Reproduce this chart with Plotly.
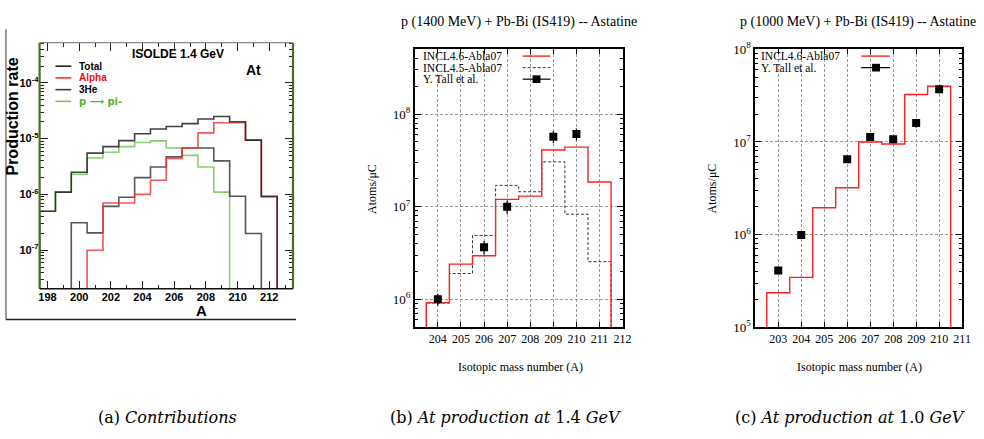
import plotly.graph_objects as go

W, H = 984, 439

# ---------------- data ----------------
# (a) ISOLDE 1.4 GeV contributions (production rate)
a_total_A = list(range(198, 213))
a_total = [5.0e-7, 1.1e-6, 2.5e-6, 5.5e-6, 7.2e-6, 9.2e-6, 1.22e-5, 1.49e-5,
           1.65e-5, 1.86e-5, 2.24e-5, 2.49e-5, 2.0e-5, 9.4e-6, 9.3e-7]
a_alpha_A = list(range(201, 213))
a_alpha = [1.0e-7, 7.0e-7, 7.0e-7, 1.0e-6, 1.8e-6, 4.4e-6, 6.8e-6, 1.27e-5,
           1.93e-5, 1.93e-5, 9.4e-6, 9.0e-7]
a_he3_A = list(range(200, 212))
a_he3 = [3.1e-7, 2.05e-7, 6.1e-7, 8.9e-7, 2.0e-6, 3.1e-6, 4.7e-6, 6.8e-6,
         6.8e-6, 4.0e-6, 9.3e-7, 2.0e-7]
a_pip_A = list(range(198, 210))
a_pip = [5.0e-7, 1.1e-6, 2.3e-6, 4.5e-6, 5.7e-6, 7.2e-6, 8.5e-6, 9.1e-6,
         6.8e-6, 5.0e-6, 3.1e-6, 1.1e-6]
a_xticks = [198, 200, 202, 204, 206, 208, 210, 212]
a_yexp = [-7, -6, -5, -4]

# (b) p (1400 MeV) + Pb-Bi
b_A = list(range(204, 212))
b_incl46 = [9.2e5, 2.4e6, 2.95e6, 1.2e7, 1.3e7, 4.1e7, 4.4e7, 1.85e7]
b_incl45 = [9.1e5, 1.9e6, 4.9e6, 1.7e7, 1.45e7, 3.05e7, 8.3e6, 2.55e6]
b_tall_A = [204, 206, 207, 209, 210]
b_tall = [1.0e6, 3.65e6, 1.0e7, 5.7e7, 6.1e7]
b_tall_err = [1.5e5, 6.0e5, 1.6e6, 8.5e6, 9.0e6]
b_xticks = list(range(204, 213))
b_yexp = [6, 7, 8]

# (c) p (1000 MeV) + Pb-Bi
c_A = list(range(203, 211))
c_incl46 = [2.35e5, 3.45e5, 1.95e6, 3.2e6, 1.0e7, 9.5e6, 3.26e7, 4.0e7]
c_tall_A = [203, 204, 206, 207, 208, 209, 210]
c_tall = [4.1e5, 9.9e5, 6.5e6, 1.13e7, 1.07e7, 1.6e7, 3.7e7]
c_tall_err = [3.0e4, 7.0e4, 5.0e5, 9.0e5, 9.0e5, 1.8e6, 3.5e6]
c_xticks = list(range(203, 212))
c_yexp = [5, 6, 7, 8]

captions = ["(a) <i>Contributions</i>",
            "(b) <i>At production at</i> 1.4 <i>GeV</i>",
            "(c) <i>At production at</i> 1.0 <i>GeV</i>"]


def px(x):
    return x / W


def py(y):
    return 1 - y / H


def steps(centers, vals, floor):
    xs, ys = [centers[0] - 0.5], [floor]
    for c, v in zip(centers, vals):
        xs += [c - 0.5, c + 0.5]
        ys += [v, v]
    xs.append(centers[-1] + 0.5)
    ys.append(floor)
    return xs, ys


def minor_vals(lo, hi):
    out = []
    for e in range(lo, hi + 1):
        for k in range(2, 10):
            out.append(k * 10 ** e)
    return out


def dec_vals(exps):
    return [10.0 ** e for e in exps]


def dec_text(exps):
    return ["10<sup>%d</sup>" % e for e in exps]


fig = go.Figure()

# ---------------- panel (a) ----------------
GREEN = "#7cc45c"
RED_A = "#f23a3a"
for xs_c, vals, col in [(a_pip_A, a_pip, GREEN), (a_he3_A, a_he3, "#3a3a3a"),
                        (a_alpha_A, a_alpha, RED_A), (a_total_A, a_total, "#222222")]:
    xs, ys = steps(xs_c, vals, 1e-10)
    fig.add_trace(go.Scatter(x=xs, y=ys, mode="lines", xaxis="x", yaxis="y",
                             line=dict(color=col, width=1.6), opacity=0.85,
                             showlegend=False, hoverinfo="skip"))

# ---------------- panel (b) ----------------
xs, ys = steps(b_A, b_incl45, 1e3)
fig.add_trace(go.Scatter(x=xs, y=ys, mode="lines", xaxis="x2", yaxis="y2",
                         line=dict(color="#333333", width=1, dash="3px,2px"),
                         showlegend=False, hoverinfo="skip"))
xs, ys = steps(b_A, b_incl46, 1e3)
fig.add_trace(go.Scatter(x=xs, y=ys, mode="lines", xaxis="x2", yaxis="y2",
                         line=dict(color="#ff2020", width=1.4),
                         showlegend=False, hoverinfo="skip"))
fig.add_trace(go.Scatter(x=b_tall_A, y=b_tall, mode="markers", xaxis="x2", yaxis="y2",
                         marker=dict(symbol="square", size=8, color="black"),
                         error_y=dict(type="data", array=b_tall_err, width=0,
                                      color="black", thickness=1.2),
                         showlegend=False, hoverinfo="skip"))

# ---------------- panel (c) ----------------
xs, ys = steps(c_A, c_incl46, 1e3)
fig.add_trace(go.Scatter(x=xs, y=ys, mode="lines", xaxis="x3", yaxis="y3",
                         line=dict(color="#ff2020", width=1.4),
                         showlegend=False, hoverinfo="skip"))
fig.add_trace(go.Scatter(x=c_tall_A, y=c_tall, mode="markers", xaxis="x3", yaxis="y3",
                         marker=dict(symbol="square", size=8, color="black"),
                         error_y=dict(type="data", array=c_tall_err, width=0,
                                      color="black", thickness=1.2),
                         showlegend=False, hoverinfo="skip"))

# ---------------- axes ----------------
bold11 = dict(family="Liberation Sans", size=11, color="black", weight="bold")
serif = dict(family="Liberation Serif", size=12, color="black")
serif_y = dict(family="Liberation Serif", size=13, color="black")

fig.update_layout(
    xaxis=dict(domain=[px(39), px(295)], anchor="y", range=[197.5, 213.5],
               tickvals=a_xticks, ticks="inside", ticklen=8, tickcolor="#222",
               mirror="ticks", showline=False, showgrid=False, zeroline=False,
               tickfont=bold11,
               minor=dict(tickvals=list(range(198, 214)), ticks="inside",
                          ticklen=4, tickcolor="#222", showgrid=False)),
    yaxis=dict(domain=[py(291), py(35)], anchor="x", type="log",
               range=[-7.69, -3.28], tickvals=dec_vals(a_yexp), ticktext=dec_text(a_yexp),
               ticks="inside", ticklen=8, tickcolor="#222", mirror="ticks",
               showline=False, showgrid=False, zeroline=False, tickfont=bold11,
               minor=dict(tickvals=minor_vals(-8, -4), ticks="inside",
                          ticklen=4, tickcolor="#222", showgrid=False)),
    xaxis2=dict(domain=[px(418), px(628)], anchor="y2", range=[203, 212],
                tickvals=b_xticks, ticks="inside", ticklen=5, tickcolor="black",
                mirror="ticks", showline=True, linecolor="black", linewidth=1.5,
                showgrid=True, gridcolor="#9a9a9a", griddash="3px,2px", gridwidth=1,
                zeroline=False, tickfont=serif),
    yaxis2=dict(domain=[py(331), py(42)], anchor="x2", type="log",
                range=[5.699, 8.699], tickvals=dec_vals(b_yexp), ticktext=dec_text(b_yexp),
                ticks="inside", ticklen=6, tickcolor="black", mirror="ticks",
                showline=True, linecolor="black", linewidth=1.5,
                showgrid=True, gridcolor="#9a9a9a", griddash="3px,2px", gridwidth=1,
                zeroline=False, tickfont=serif_y,
                minor=dict(tickvals=minor_vals(5, 8), ticks="inside", ticklen=3,
                           tickcolor="black", showgrid=False)),
    xaxis3=dict(domain=[px(762), px(971)], anchor="y3", range=[202, 211],
                tickvals=c_xticks, ticks="inside", ticklen=5, tickcolor="black",
                mirror="ticks", showline=True, linecolor="black", linewidth=1.5,
                showgrid=True, gridcolor="#9a9a9a", griddash="3px,2px", gridwidth=1,
                zeroline=False, tickfont=serif),
    yaxis3=dict(domain=[py(331), py(42)], anchor="x3", type="log",
                range=[5, 8], tickvals=dec_vals(c_yexp), ticktext=dec_text(c_yexp),
                ticks="inside", ticklen=6, tickcolor="black", mirror="ticks",
                showline=True, linecolor="black", linewidth=1.5,
                showgrid=True, gridcolor="#9a9a9a", griddash="3px,2px", gridwidth=1,
                zeroline=False, tickfont=serif_y,
                minor=dict(tickvals=minor_vals(4, 8), ticks="inside", ticklen=3,
                           tickcolor="black", showgrid=False)),
)

shapes = []
ann = []

# panel (a) frame
shapes += [
    dict(type="line", xref="x domain", yref="y domain", x0=0, x1=0, y0=0, y1=1,
         line=dict(color="#4f6a25", width=2.2)),
    dict(type="line", xref="x domain", yref="y domain", x0=1, x1=1, y0=0, y1=1,
         line=dict(color="#4f6a25", width=2.2)),
    dict(type="line", xref="x domain", yref="y domain", x0=0, x1=1, y0=1, y1=1,
         line=dict(color="#8a8a8a", width=1.2)),
    dict(type="line", xref="x domain", yref="y domain", x0=0, x1=1, y0=0, y1=0,
         line=dict(color="#111", width=1.5)),
    # outer picture frame
    dict(type="line", xref="paper", yref="paper", x0=px(5), x1=px(5), y0=py(323), y1=py(21),
         line=dict(color="#9a9a9a", width=2)),
    dict(type="line", xref="paper", yref="paper", x0=px(5), x1=px(298), y0=py(323), y1=py(323),
         line=dict(color="#222", width=1.5)),
]

# panel (a) legend
a_leg = [("Total", "#222222", "black", "Liberation Sans"),
         ("Alpha", RED_A, "#ee1111", "Liberation Sans"),
         ("3He", "#3a3a3a", "black", "Liberation Sans"),
         ("p \u27f6 pi-", GREEN, "#55b535", "DejaVu Sans")]
for i, (txt, lc, tc, fam) in enumerate(a_leg):
    yy = 59.5 + 12.2 * i
    shapes.append(dict(type="line", xref="paper", yref="paper", x0=px(55), x1=px(71),
                       y0=py(yy), y1=py(yy), line=dict(color=lc, width=1.6)))
    ann.append(dict(text=txt, x=px(78), y=py(yy), xref="paper", yref="paper",
                    xanchor="left", yanchor="middle", showarrow=False, borderpad=0,
                    font=dict(family=fam, size=10, color=tc, weight="bold")))

ann += [
    dict(text="ISOLDE 1.4 GeV", x=px(179), y=py(47), xref="paper", yref="paper",
         showarrow=False, xanchor="center", yanchor="middle",
         font=dict(family="Liberation Sans", size=12, color="black", weight="bold")),
    dict(text="At", x=px(255), y=py(63), xref="paper", yref="paper",
         showarrow=False, xanchor="center", yanchor="middle",
         font=dict(family="Liberation Sans", size=14, color="black", weight="bold")),
    dict(text="Production rate", x=px(12), y=py(112), xref="paper", yref="paper",
         showarrow=False, textangle=-90, xanchor="center", yanchor="middle",
         font=dict(family="Liberation Sans", size=16, color="black", weight="bold")),
    dict(text="A", x=px(203), y=py(314), xref="paper", yref="paper",
         showarrow=False, xanchor="center", yanchor="middle", borderpad=0,
         font=dict(family="Liberation Sans", size=15, color="black", weight="bold")),
]

# panels (b) and (c) titles / labels
ann += [
    dict(text="p (1400 MeV) + Pb-Bi (IS419) -- Astatine", x=px(523), y=py(14),
         xref="paper", yref="paper", showarrow=False, xanchor="center", yanchor="middle",
         font=dict(family="Liberation Serif", size=14, color="black")),
    dict(text="p (1000 MeV) + Pb-Bi (IS419) -- Astatine", x=px(866), y=py(14),
         xref="paper", yref="paper", showarrow=False, xanchor="center", yanchor="middle",
         font=dict(family="Liberation Serif", size=14, color="black")),
    dict(text="Atoms/\u03bcC", x=px(375), y=py(187), xref="paper", yref="paper",
         showarrow=False, textangle=-90, xanchor="center", yanchor="middle",
         font=dict(family="Liberation Serif", size=12, color="black")),
    dict(text="Atoms/\u03bcC", x=px(718), y=py(187), xref="paper", yref="paper",
         showarrow=False, textangle=-90, xanchor="center", yanchor="middle",
         font=dict(family="Liberation Serif", size=12, color="black")),
    dict(text="Isotopic mass number (A)", x=px(525), y=py(372), xref="paper", yref="paper",
         showarrow=False, xanchor="center", yanchor="middle",
         font=dict(family="Liberation Serif", size=12, color="black")),
    dict(text="Isotopic mass number (A)", x=px(867), y=py(372), xref="paper", yref="paper",
         showarrow=False, xanchor="center", yanchor="middle",
         font=dict(family="Liberation Serif", size=12, color="black")),
]

LEG_DY = 12.0
# legend (b)
shapes.append(dict(type="rect", xref="paper", yref="paper", x0=px(419), x1=px(560),
                   y0=py(79), y1=py(43), fillcolor="white", line=dict(width=0),
                   layer="between"))
b_leg = ["INCL4.6-Abla07", "INCL4.5-Abla07", "Y. Tall et al."]
for i, txt in enumerate(b_leg):
    yy = 49 + LEG_DY * i
    ann.append(dict(text=txt, x=px(425), y=py(yy), xref="paper", yref="paper",
                    xanchor="left", yanchor="middle", showarrow=False, borderpad=0,
                    font=dict(family="Liberation Serif", size=11.5, color="black")))
shapes += [
    dict(type="line", xref="paper", yref="paper", x0=px(527), x1=px(555), y0=py(49), y1=py(49),
         line=dict(color="#ff2020", width=1.4)),
    dict(type="line", xref="paper", yref="paper", x0=px(527), x1=px(555),
         y0=py(49 + LEG_DY), y1=py(49 + LEG_DY),
         line=dict(color="#333", width=1, dash="3px,2px")),
    dict(type="line", xref="paper", yref="paper", x0=px(527), x1=px(555),
         y0=py(49 + 2 * LEG_DY), y1=py(49 + 2 * LEG_DY),
         line=dict(color="black", width=1.2)),
    dict(type="rect", xref="paper", yref="paper", x0=px(537), x1=px(545),
         y0=py(53 + 2 * LEG_DY), y1=py(45 + 2 * LEG_DY),
         fillcolor="black", line=dict(width=0)),
]

# legend (c)
shapes.append(dict(type="rect", xref="paper", yref="paper", x0=px(763), x1=px(904),
                   y0=py(67), y1=py(43), fillcolor="white", line=dict(width=0),
                   layer="between"))
c_leg = ["INCL4.6-Abla07", "Y. Tall et al."]
for i, txt in enumerate(c_leg):
    yy = 49 + LEG_DY * i
    ann.append(dict(text=txt, x=px(767), y=py(yy), xref="paper", yref="paper",
                    xanchor="left", yanchor="middle", showarrow=False, borderpad=0,
                    font=dict(family="Liberation Serif", size=11.5, color="black")))
shapes += [
    dict(type="line", xref="paper", yref="paper", x0=px(869), x1=px(898), y0=py(49), y1=py(49),
         line=dict(color="#ff2020", width=1.4)),
    dict(type="line", xref="paper", yref="paper", x0=px(869), x1=px(898),
         y0=py(49 + LEG_DY), y1=py(49 + LEG_DY),
         line=dict(color="black", width=1.2)),
    dict(type="rect", xref="paper", yref="paper", x0=px(880), x1=px(888),
         y0=py(53 + LEG_DY), y1=py(45 + LEG_DY),
         fillcolor="black", line=dict(width=0)),
]

# captions
for txt, cx in zip(captions, [168, 510, 858]):
    ann.append(dict(text=txt, x=px(cx), y=py(425), xref="paper", yref="paper",
                    showarrow=False, xanchor="center", yanchor="middle",
                    font=dict(family="DejaVu Serif", size=16, color="black")))

fig.update_layout(width=W, height=H, margin=dict(l=0, r=0, t=0, b=0),
                  paper_bgcolor="white", plot_bgcolor="white",
                  shapes=shapes, annotations=ann, showlegend=False)

fig.write_html("out.html")
